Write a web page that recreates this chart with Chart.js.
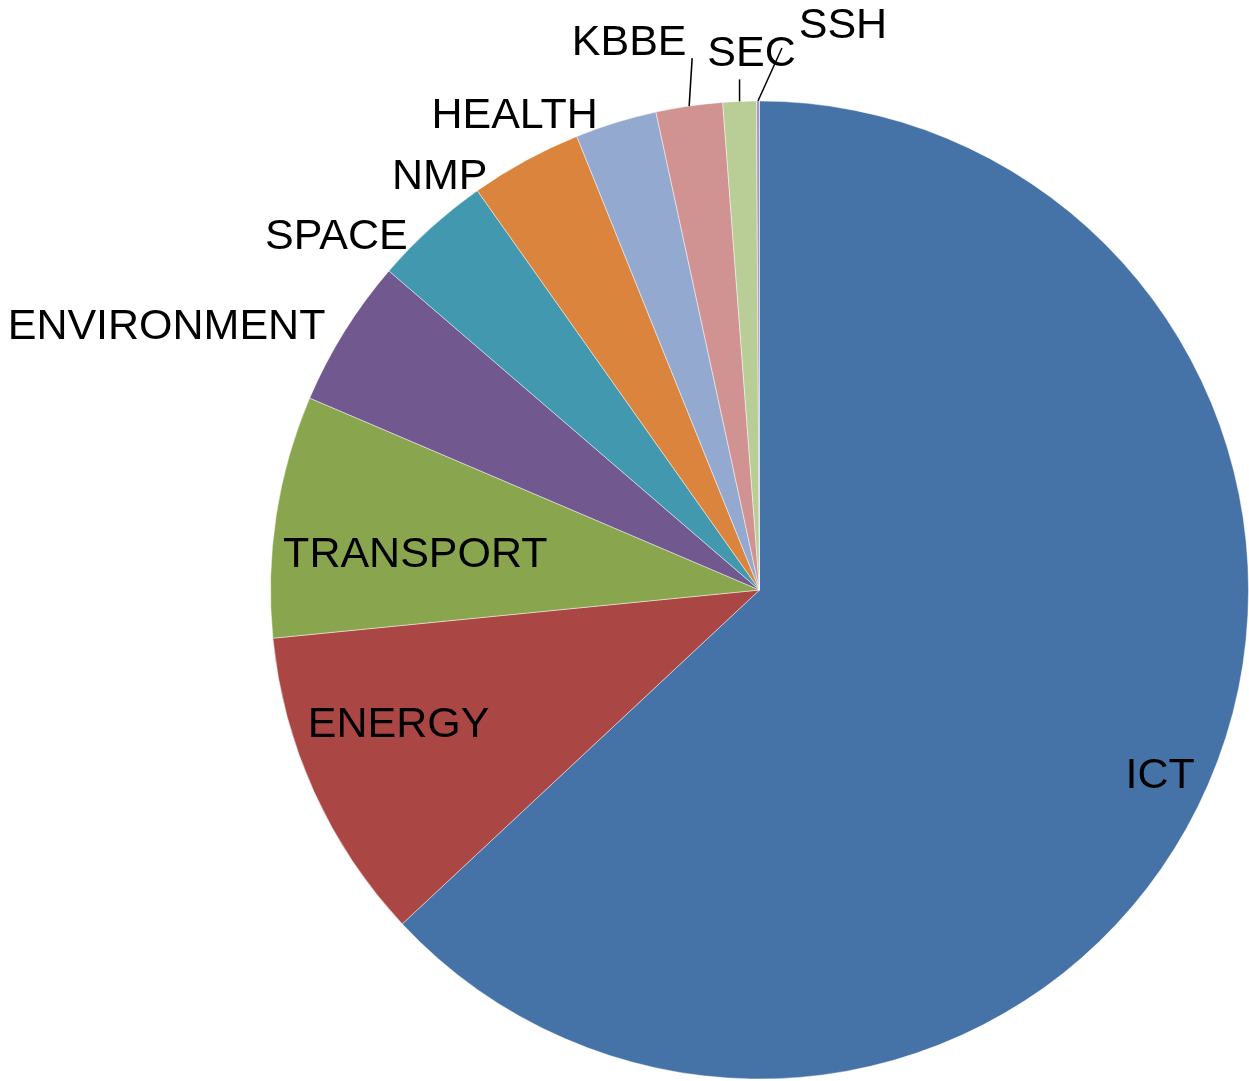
<!DOCTYPE html>
<html>
<head>
<meta charset="utf-8">
<script src="https://cdn.jsdelivr.net/npm/chart.js@4"></script>
<style>
  html, body { margin: 0; padding: 0; background: #fff; overflow: hidden; }
  #wrap { width: 1249px; height: 1081px; }
</style>
</head>
<body>
<div id="wrap"><canvas id="pie" width="1249" height="1081"></canvas></div>
<script>
// ===== Dados =====
const categories = ['ICT', 'ENERGY', 'TRANSPORT', 'ENVIRONMENT', 'SPACE', 'NMP', 'HEALTH', 'KBBE', 'SEC', 'SSH'];
const shares     = [63.1, 10.4, 8.0, 4.9, 3.9, 3.7, 2.7, 2.2, 1.1, 0.1];
const colors     = ['#4572A7', '#AA4643', '#89A54E', '#71588F', '#4198AF',
                    '#DB843D', '#93A9CF', '#D19392', '#B9CD96', '#A99BBD'];

// estilo dos rótulos (posição relativa ao arco de cada fatia)
const labelStyle = [
  { mode: 'in',  rf: 0.90, off: [-3, 11] },
  { mode: 'in',  rf: 0.79, off: [-9, -24] },
  { mode: 'in',  rf: 0.71, off: [-1, 18] },
  { mode: 'out', off: [-19, -4] },
  { mode: 'out', off: [-23, 9] },
  { mode: 'out', off: [-38, 17] },
  { mode: 'out', off: [-18, -6] },
  { mode: 'leader', line: [3, -48], text: [-63, -15] },
  { mode: 'leader', line: [0, -22], text: [12, -25] },
  { mode: 'leader', line: [24, -53], text: [61, -22] }
];

const FONT = '43px "Liberation Sans", Arial, sans-serif';

const sliceLabels = {
  id: 'sliceLabels',
  afterDraw(chart) {
    const ctx = chart.ctx;
    const arcs = chart.getDatasetMeta(0).data;
    ctx.save();
    ctx.font = FONT;
    ctx.fillStyle = '#000';
    ctx.strokeStyle = '#000';
    ctx.lineWidth = 1.5;
    arcs.forEach((arc, i) => {
      const p = arc.getProps(['x', 'y', 'startAngle', 'endAngle', 'outerRadius'], true);
      const mid = (p.startAngle + p.endAngle) / 2;
      const st = labelStyle[i];
      if (st.mode === 'in') {
        const r = p.outerRadius * st.rf;
        ctx.textAlign = 'center';
        ctx.textBaseline = 'middle';
        ctx.fillText(categories[i], p.x + Math.cos(mid) * r + st.off[0], p.y + Math.sin(mid) * r + st.off[1]);
      } else if (st.mode === 'out') {
        const ex = p.x + Math.cos(mid) * p.outerRadius;
        const ey = p.y + Math.sin(mid) * p.outerRadius;
        ctx.textAlign = 'right';
        ctx.textBaseline = 'middle';
        ctx.fillText(categories[i], ex + st.off[0], ey + st.off[1]);
      } else {
        const ex = p.x + Math.cos(mid) * p.outerRadius;
        const ey = p.y + Math.sin(mid) * p.outerRadius;
        const lx = ex + st.line[0], ly = ey + st.line[1];
        ctx.beginPath();
        ctx.moveTo(ex, ey);
        ctx.lineTo(lx, ly);
        ctx.stroke();
        ctx.textAlign = 'center';
        ctx.textBaseline = 'middle';
        ctx.fillText(categories[i], lx + st.text[0], ly + st.text[1]);
      }
    });
    ctx.restore();
  }
};

new Chart(document.getElementById('pie'), {
  type: 'pie',
  data: {
    labels: categories,
    datasets: [{
      data: shares,
      backgroundColor: colors,
      borderColor: 'rgba(255,255,255,0.45)',
      borderWidth: 1
    }]
  },
  options: {
    responsive: false,
    animation: false,
    devicePixelRatio: 1,
    layout: { padding: { left: 270, right: 0, top: 100, bottom: 1 } },
    plugins: {
      legend: { display: false },
      tooltip: { enabled: false }
    }
  },
  plugins: [sliceLabels]
});
</script>
</body>
</html>
